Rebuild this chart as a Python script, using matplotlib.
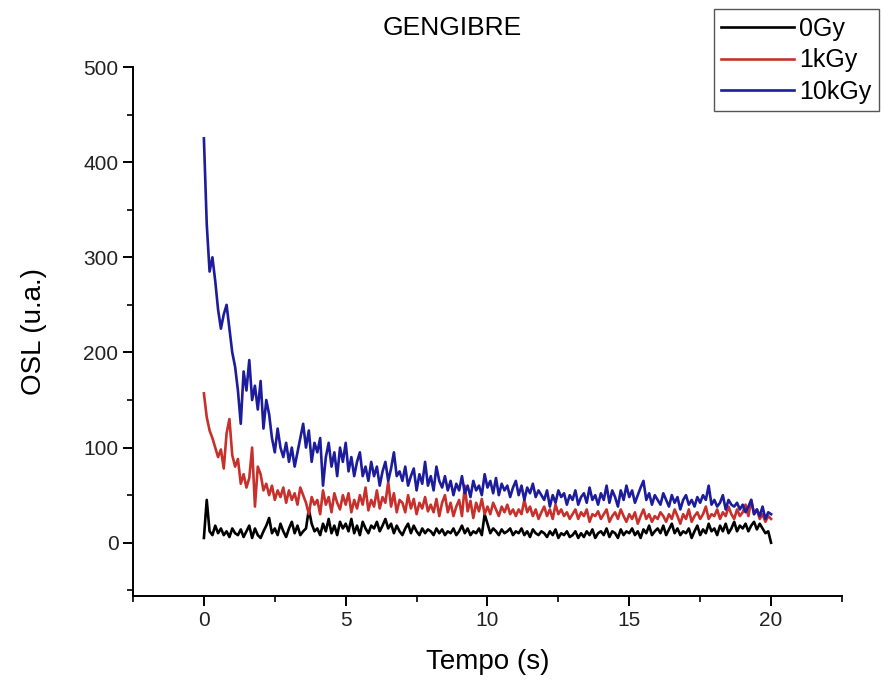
import matplotlib
matplotlib.use("Agg")
import matplotlib.pyplot as plt
from matplotlib.ticker import MultipleLocator
import numpy as np

plt.rcParams['font.family'] = ['Liberation Sans', 'DejaVu Sans']

# tempo (s), 0.1 s steps
tempo = np.round(np.arange(0, 201) * 0.1, 1)

osl_0gy = [
    5, 45, 12, 8, 18, 10, 15, 8, 12, 6,
    15, 10, 8, 14, 6, 12, 18, 5, 15, 8,
    5, 12, 18, 26, 10, 15, 8, 20, 12, 6,
    15, 22, 10, 18, 8, 12, 15, 35, 20, 12,
    15, 8, 20, 12, 25, 10, 18, 8, 22, 15,
    20, 12, 25, 10, 18, 8, 22, 15, 10, 18,
    15, 22, 12, 18, 25, 15, 20, 10, 18, 12,
    8, 15, 20, 10, 18, 12, 8, 15, 10, 14,
    12, 8, 15, 10, 14, 8, 12, 10, 15, 8,
    12, 18, 10, 15, 8, 12, 10, 15, 8, 30,
    20, 10, 15, 12, 8, 14, 10, 12, 15, 8,
    12, 10, 15, 8, 12, 6, 14, 10, 8, 12,
    10, 6, 12, 8, 14, 5, 10, 8, 12, 6,
    8, 12, 5, 10, 6, 12, 8, 14, 5, 10,
    12, 8, 15, 6, 12, 10, 5, 14, 8, 12,
    10, 15, 8, 12, 5, 14, 10, 18, 8, 12,
    15, 10, 18, 8, 14, 20, 10, 15, 8, 12,
    10, 15, 5, 12, 18, 8, 14, 10, 20, 12,
    15, 8, 18, 12, 20, 10, 15, 22, 12, 18,
    15, 20, 12, 18, 22, 14, 20, 15, 10, 12,
    0,
]

osl_1kgy = [
    157, 132, 118, 110, 100, 90, 98, 78, 115, 130,
    92, 80, 88, 62, 72, 58, 68, 100, 38, 80,
    72, 55, 62, 50, 60, 45, 55, 48, 58, 42,
    55, 45, 52, 40, 58, 50, 42, 30, 48, 40,
    45, 30, 55, 40, 48, 32, 52, 42, 35, 50,
    40, 52, 32, 45, 36, 50, 40, 58, 34, 45,
    38, 55, 36, 48, 42, 64, 38, 52, 32, 45,
    42, 32, 50, 36, 46, 30, 42, 36, 48, 33,
    40, 32, 46, 28, 42, 50, 32, 42, 28, 38,
    45, 28, 60, 33, 44, 26, 42, 33, 46, 30,
    38, 30, 42, 35, 28, 38, 32, 40, 30, 35,
    28, 35, 30, 45, 32, 38, 28, 35, 25, 32,
    38, 28, 35, 25, 40, 30, 35, 28, 32, 25,
    30, 35, 25, 32, 28, 35, 22, 30, 28, 33,
    25, 30, 35, 22, 28, 32, 25, 35, 28, 22,
    30, 25, 32, 20, 28, 35, 25, 30, 22, 28,
    25, 32, 28, 22, 30, 25, 35, 28, 20, 30,
    25, 35, 22, 28, 32, 25, 30, 38, 25, 30,
    28, 35, 25, 32, 28, 38, 30, 25, 35, 28,
    32, 40, 28, 45, 30, 35, 25, 30, 22, 28,
    25,
]

osl_10kgy = [
    425, 335, 285, 300, 275, 245, 225, 240, 250, 225,
    200, 185, 160, 125, 180, 160, 192, 150, 165, 140,
    170, 120, 150, 135, 110, 95, 120, 100, 90, 105,
    85, 100, 80, 95, 110, 125, 100, 118, 85, 105,
    95, 110, 60, 90, 105, 80, 95, 70, 100, 85,
    105, 75, 90, 70, 85, 95, 70, 80, 65, 85,
    70, 80, 60, 75, 85, 65, 78, 95, 70, 75,
    65, 80, 60, 70, 78, 55, 72, 62, 85, 60,
    70, 55, 80, 65, 58, 70, 55, 65, 50, 62,
    55, 70, 52, 60, 48, 65, 55, 60, 50, 72,
    58, 65, 52, 68, 50, 62, 55, 60, 48, 58,
    65, 50, 60, 45, 58, 52, 62, 48, 55, 50,
    45, 55, 38, 50, 42, 55, 48, 52, 40, 50,
    45, 55, 40, 48, 52, 42, 58, 45, 50, 40,
    52, 45, 60, 42, 55, 48, 38, 55, 45, 60,
    48, 55, 42, 50, 58, 65, 45, 52, 40, 50,
    45, 40, 52, 45, 38, 50, 42, 48, 35, 45,
    50, 40, 45, 38, 48, 42, 50, 45, 60, 40,
    45, 38, 42, 50, 35, 45, 40, 38, 42, 35,
    40, 32, 38, 45, 30, 35, 28, 38, 25, 32,
    30,
]

labels = ["0Gy", "1kGy", "10kGy"]
colors = ["black", "#c8302c", "#1c1c9c"]

fig = plt.figure(figsize=(8.82, 6.81), dpi=100)
ax = fig.add_axes([0.1508, 0.1248, 0.8038, 0.7768])

for y, lab, c in zip([osl_0gy, osl_1kgy, osl_10kgy], labels, colors):
    ax.plot(tempo, y, color=c, lw=1.9, label=lab)

ax.set_xlim(-2.5, 22.5)
ax.set_ylim(-56, 500)
ax.xaxis.set_major_locator(MultipleLocator(5))
ax.xaxis.set_minor_locator(MultipleLocator(2.5))
ax.yaxis.set_major_locator(MultipleLocator(100))
ax.yaxis.set_minor_locator(MultipleLocator(50))
ax.set_xticks([0, 5, 10, 15, 20])
ax.set_yticks([0, 100, 200, 300, 400, 500])

for s in ["top", "right"]:
    ax.spines[s].set_visible(False)
for s in ["left", "bottom"]:
    ax.spines[s].set_linewidth(1.4)

ax.tick_params(which="major", direction="out", length=7, width=1.4,
               labelsize=15, colors="black", labelcolor="#222222")
ax.tick_params(which="minor", direction="out", length=4, width=1.2)

ax.set_xlabel("Tempo (s)", fontsize=20, labelpad=14)
ax.set_ylabel("OSL (u.a.)", fontsize=20, labelpad=26)

fig.text(452 / 882, 1 - 28 / 681, "GENGIBRE", fontsize=19,
         ha="center", va="center")

leg = fig.legend(loc="upper right", bbox_to_anchor=(0.999, 0.99),
                 fontsize=18, handlelength=2.9, handletextpad=0.2,
                 labelspacing=0.3, borderpad=0.3, fancybox=False,
                 framealpha=1, borderaxespad=0.1)
leg.get_frame().set_edgecolor("#555555")
leg.get_frame().set_linewidth(1.0)

fig.savefig("out.png", dpi=100)
